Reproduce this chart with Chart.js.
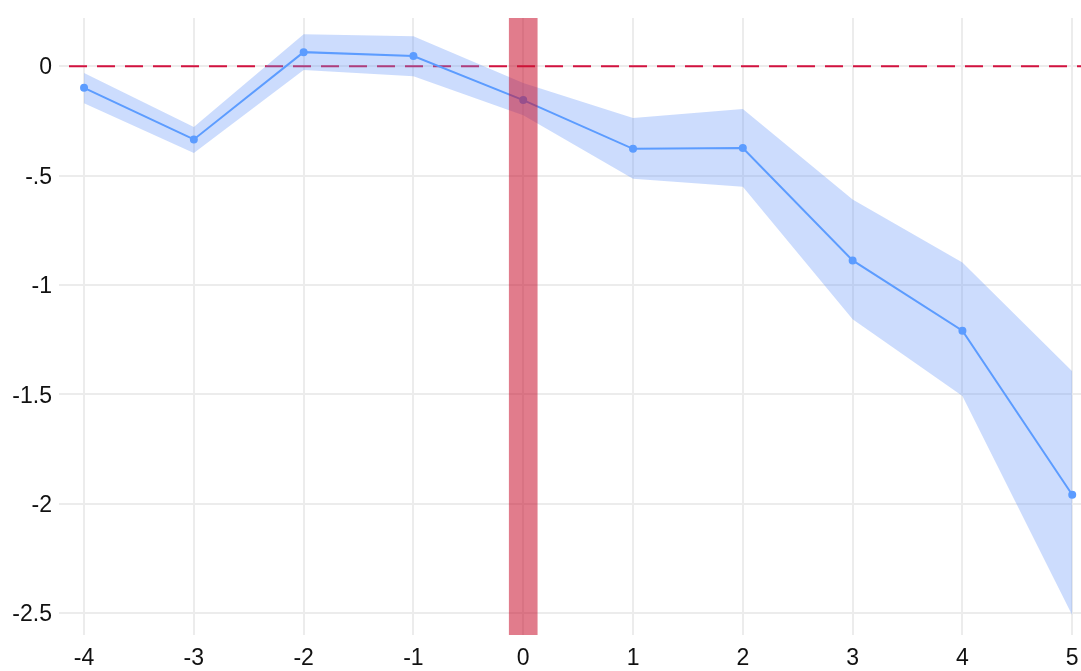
<!DOCTYPE html>
<html>
<head>
<meta charset="utf-8">
<script src="https://cdn.jsdelivr.net/npm/chart.js@4"></script>
<style>
  html, body { margin: 0; padding: 0; background: #fff; }
  #wrap { width: 1081px; height: 671px; position: relative; }
</style>
</head>
<body>
<div id="wrap"><canvas id="eventChart"></canvas></div>
<script>
// event time (periods relative to treatment)
const periods = [-4, -3, -2, -1, 0, 1, 2, 3, 4, 5];
// point estimates
const estimates = [-0.099, -0.335, 0.064, 0.046, -0.155, -0.378, -0.374, -0.888, -1.209, -1.959];
// confidence band
const upperCI = [-0.031, -0.278, 0.146, 0.137, -0.077, -0.237, -0.196, -0.610, -0.897, -1.394];
const lowerCI = [-0.170, -0.397, -0.018, -0.046, -0.225, -0.515, -0.551, -1.157, -1.508, -2.510];
// treatment marker and reference
const treatPeriod = 0;
const refValue = 0;
// axis ranges
const xRange = [-4.137, 5.08];
const yRange = [-2.6, 0.22];
const yTickValues = [0, -0.5, -1, -1.5, -2, -2.5];

const toPoints = (vals) => periods.map((p, i) => ({ x: p, y: vals[i] }));

// dashed reference line, drawn under the datasets
const refLine = {
  id: 'refLine',
  beforeDatasetsDraw(chart) {
    const { ctx, chartArea, scales } = chart;
    const y = scales.y.getPixelForValue(refValue);
    ctx.save();
    ctx.strokeStyle = '#d2123f';
    ctx.lineWidth = 2;
    ctx.setLineDash([18, 10]);
    ctx.beginPath();
    ctx.moveTo(chartArea.left, y);
    ctx.lineTo(chartArea.right, y);
    ctx.stroke();
    ctx.restore();
  }
};

const tickFont = { family: '"Liberation Sans", Arial, sans-serif', size: 23 };

new Chart(document.getElementById('eventChart'), {
  type: 'line',
  data: {
    datasets: [
      {
        type: 'bar',
        data: [{ x: treatPeriod, y: [yRange[0], yRange[1]] }],
        backgroundColor: 'rgba(200, 16, 46, 0.55)',
        borderWidth: 0,
        barThickness: 28,
        order: 0
      },
      {
        data: toPoints(estimates),
        borderColor: '#5c9cff',
        backgroundColor: '#5c9cff',
        borderWidth: 2,
        pointRadius: 3,
        pointHoverRadius: 3,
        fill: false,
        tension: 0,
        order: 1
      },
      {
        data: toPoints(upperCI),
        borderWidth: 0,
        pointRadius: 0,
        backgroundColor: 'rgba(100, 150, 250, 0.33)',
        fill: '+1',
        tension: 0,
        order: 2
      },
      {
        data: toPoints(lowerCI),
        borderWidth: 0,
        pointRadius: 0,
        fill: false,
        tension: 0,
        order: 3
      }
    ]
  },
  options: {
    responsive: true,
    maintainAspectRatio: false,
    animation: false,
    layout: { autoPadding: false, padding: { top: 18, right: 0, left: 0, bottom: 0 } },
    plugins: { legend: { display: false }, tooltip: { enabled: false } },
    scales: {
      x: {
        type: 'linear',
        offset: false,
        min: xRange[0],
        max: xRange[1],
        border: { display: false },
        grid: { color: '#ececec', lineWidth: 2, drawTicks: false, offset: false },
        afterBuildTicks(scale) { scale.ticks = periods.map(v => ({ value: v })); },
        ticks: { autoSkip: false, padding: 10, color: '#111', font: tickFont, maxRotation: 0 },
        afterFit(scale) {
          scale.height = 36;
          scale.paddingLeft = 0;
          scale.paddingRight = 0;
          // the last label fits inside the canvas, so no extra right margin
          if (scale._margins) { scale._margins.left = 0; scale._margins.right = 0; }
        }
      },
      y: {
        min: yRange[0],
        max: yRange[1],
        border: { display: false },
        grid: { color: '#ececec', lineWidth: 2, tickLength: 10 },
        afterBuildTicks(scale) { scale.ticks = yTickValues.map(v => ({ value: v })); },
        ticks: {
          padding: 7,
          labelOffset: 2,
          color: '#111',
          font: tickFont,
          callback: (v) => String(v).replace(/^(-?)0\./, '$1.')
        },
        afterFit(scale) {
          scale.width = 69;
          scale.paddingTop = 0;
          scale.paddingBottom = 0;
        }
      }
    }
  },
  plugins: [refLine]
});
</script>
</body>
</html>
